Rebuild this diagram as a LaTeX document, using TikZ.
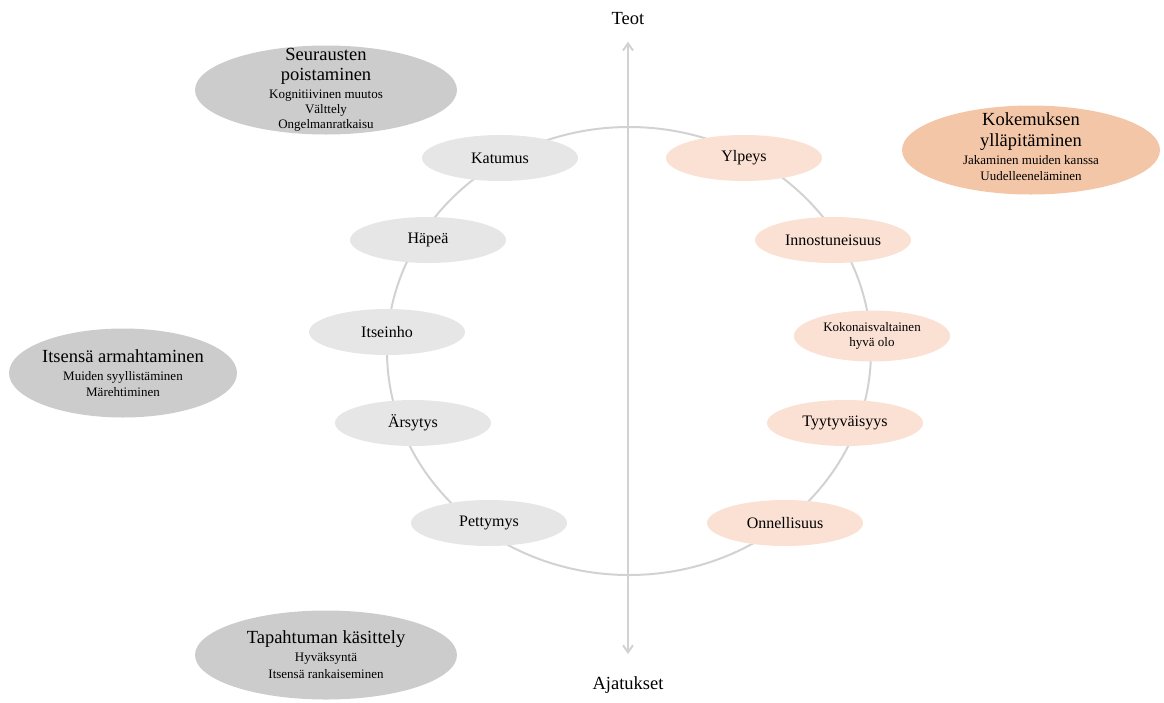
\documentclass[tikz,border=0pt]{standalone}
\usepackage{fontspec}
\setmainfont{Liberation Serif}
\usetikzlibrary{positioning, calc, shapes.geometric}
\usetikzlibrary{arrows, arrows.meta}
\tikzset{>={Straight Barb[length=2.5mm,width=3.5mm]}}
\definecolor{lightgray}{HTML}{E6E6E6}
\definecolor{midgray}{HTML}{CCCCCC}
\definecolor{lightpeach}{HTML}{FBE1D4}
\definecolor{peach}{HTML}{F4C6A8}
\definecolor{ringgray}{HTML}{D2D2D2}
\tikzset{ % ellipse styles
  feel nodes/.style={ellipse,inner sep=0,minimum width=156pt,minimum height=46pt,font=\fontsize{16}{18}\selectfont,align=center},
  negfeel/.style={feel nodes,fill=lightgray},
  posfeel/.style={feel nodes,fill=lightpeach},
  big nodes/.style={ellipse,inner sep=0,minimum height=89pt},
  bigneg/.style={big nodes,fill=midgray},
  bigpos/.style={big nodes,fill=peach},
  bigtext/.style={align=center,inner sep=0,font=\fontsize{18.5}{14}\selectfont},
  axis label/.style={font=\fontsize{18.5}{20}\selectfont}
}
\newcommand{\subtxt}{\fontsize{13}{14}\selectfont}
\lineskiplimit=-100pt

\begin{document}
\begin{tikzpicture}[x=1pt,y=-1pt]
\useasboundingbox (0,0) rectangle (1164,702);

% ring
\draw[ringgray,line width=2pt] (629,351) ellipse [x radius=242, y radius=224];

% axis
\node[axis label] (teot)      at (628,19)  {Teot};
\node[axis label] (ajatukset) at (628,685) {Ajatukset};
\draw[<->,ringgray,line width=2pt] ([yshift=-13pt]teot.south) -- ([yshift=19pt]ajatukset.north);

% negative feelings
\foreach\name/\x/\y in {Katumus/500/158, Häpeä/428/240, Itseinho/387/332, Ärsytys/413/423, Pettymys/489/523}
  \node[negfeel] (n\x) at (\x,\y) {\name};

% positive feelings
\foreach\name/\x/\y in {Ylpeys/744/158, Innostuneisuus/833/240, Tyytyväisyys/845/423, Onnellisuus/785/523}
  \node[posfeel] (p\x) at (\x,\y) {\name};
\node[posfeel,minimum height=51pt,font=\fontsize{13}{15}\selectfont] (p872) at (872,336) {Kokonaisvaltainen\\hyvä olo};

% strategies
\node[bigneg,minimum width=262pt] (seur) at (326,90) {};
\node[bigtext] (seur text) at (seur) {Seurausten\\[6pt]poistaminen\\[4pt]\subtxt Kognitiivinen muutos\\[1pt] \subtxt Välttely\\[1pt] \subtxt Ongelmanratkaisu};

\node[bigpos,minimum width=258pt] (koke) at (1031,150) {};
\node[bigtext] (koke text) at ([yshift=3pt]koke) {Kokemuksen\\[7pt]ylläpitäminen\\[4pt]\subtxt Jakaminen muiden kanssa\\[2pt] \subtxt Uudelleeneläminen};

\node[bigneg,minimum width=228pt] (arma) at (123,373) {};
\node[bigtext] (arma text) at (arma) {Itsensä armahtaminen\\[4pt]\subtxt Muiden syyllistäminen\\[2pt] \subtxt Märehtiminen};

\node[bigneg,minimum width=262pt] (kasi) at (326,655) {};
\node[bigtext] (kasi text) at (kasi) {Tapahtuman käsittely\\[4pt]\subtxt Hyväksyntä\\[3pt] \subtxt Itsensä rankaiseminen};
\end{tikzpicture}
\end{document}
